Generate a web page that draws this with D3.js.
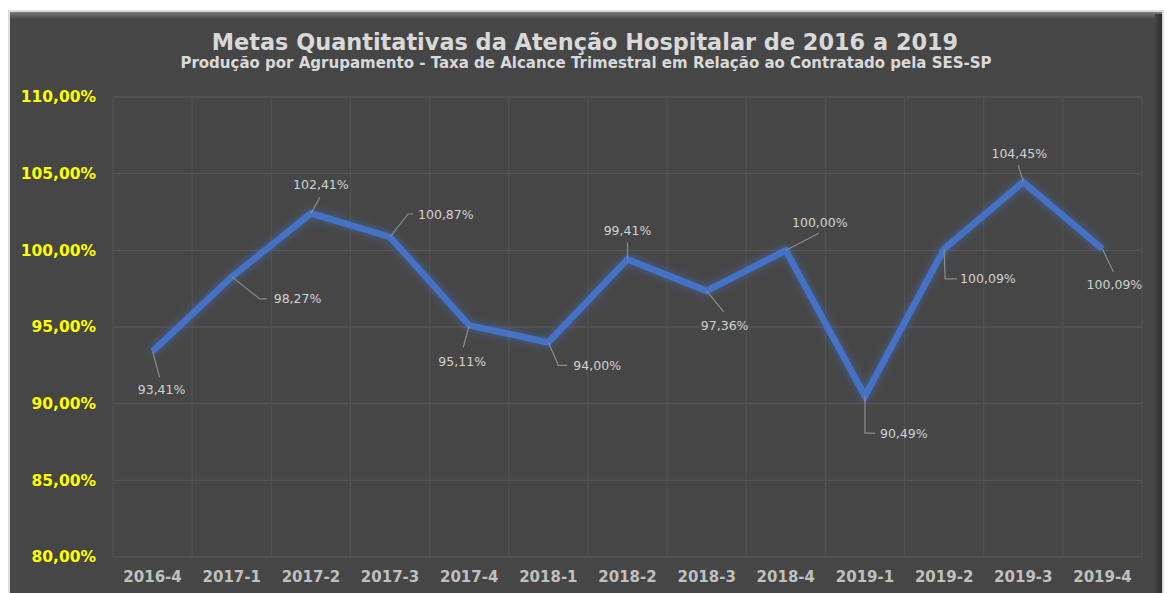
<!DOCTYPE html>
<html>
<head>
<meta charset="utf-8">
<script src="https://cdn.jsdelivr.net/npm/d3@7"></script>
<style>
  body { margin: 0; background: #ffffff; }
  svg { display: block; }
</style>
</head>
<body>
<div id="container"></div>
<script>
/* CONSTANTS AND GLOBALS */
const width = 1167;
const height = 593;
const margin = {top: 97, bottom: 36, left: 113, right: 25};

/* DATA */
const quarters = ["2016-4", "2017-1", "2017-2", "2017-3", "2017-4", "2018-1", "2018-2",
                  "2018-3", "2018-4", "2019-1", "2019-2", "2019-3", "2019-4"];
const taxa = [93.41, 98.27, 102.41, 100.87, 95.11, 94.00, 99.41, 97.36, 100.00, 90.49, 100.09, 104.45, 100.09];
const yTicks = [80, 85, 90, 95, 100, 105, 110];
const title = "Metas Quantitativas da Atenção Hospitalar de 2016 a 2019";
const subtitle = "Produção por Agrupamento - Taxa de Alcance Trimestral em Relação ao Contratado pela SES-SP";

// where each data label sits relative to its point (layout only)
const labelLayout = [
  {dx: 9,  dy: 38,  anchor: "middle", leader: [[0, 0], [7, 26]]},
  {dx: 42, dy: 22,  anchor: "start",  leader: [[0, 0], [28, 22], [35, 22]]},
  {dx: 10, dy: -29, anchor: "middle", leader: [[0, 0], [9, -16]]},
  {dx: 28, dy: -22, anchor: "start",  leader: [[0, 0], [18, -23], [23, -23]]},
  {dx: -7, dy: 36,  anchor: "middle", leader: [[0, 0], [-6, 22]]},
  {dx: 25, dy: 23,  anchor: "start",  leader: [[0, 0], [10, 23], [19, 23]]},
  {dx: 0,  dy: -29, anchor: "middle", leader: [[0, 0], [0, -17]]},
  {dx: 18, dy: 35,  anchor: "middle", leader: [[0, 0], [17, 21]]},
  {dx: 34, dy: -28, anchor: "middle", leader: [[0, 0], [33, -17]]},
  {dx: 15, dy: 37,  anchor: "start",  leader: [[0, 0], [0, 37], [10, 37]]},
  {dx: 16, dy: 30,  anchor: "start",  leader: [[0, 0], [1, 30], [13, 30]]},
  {dx: -4, dy: -29, anchor: "middle", leader: [[0, 0], [-5, -17]]},
  {dx: 12, dy: 36,  anchor: "middle", leader: [[0, 0], [11, 23]]}
];

const data = quarters.map((q, i) => ({q: q, v: taxa[i], lab: labelLayout[i]}));
const fmt = v => v.toFixed(2).replace(".", ",") + "%";

/* SVG */
const svg = d3.select("#container")
  .append("svg")
  .attr("width", width)
  .attr("height", height)
  .style("font-family", "'DejaVu Sans', Verdana, sans-serif");

const defs = svg.append("defs");

const topGrad = defs.append("linearGradient")
  .attr("id", "topBevel").attr("x1", 0).attr("y1", 0).attr("x2", 0).attr("y2", 1);
topGrad.append("stop").attr("offset", "0%").attr("stop-color", "#7a7a7a");
topGrad.append("stop").attr("offset", "100%").attr("stop-color", "#464646");

const rightGrad = defs.append("linearGradient")
  .attr("id", "rightShadow").attr("x1", 0).attr("y1", 0).attr("x2", 1).attr("y2", 0);
rightGrad.append("stop").attr("offset", "0%").attr("stop-color", "#464646");
rightGrad.append("stop").attr("offset", "100%").attr("stop-color", "#2c2c2c");

const glow = defs.append("filter")
  .attr("id", "glow")
  .attr("x", "-10%").attr("y", "-20%").attr("width", "120%").attr("height", "140%");
glow.append("feGaussianBlur").attr("in", "SourceGraphic").attr("stdDeviation", 4).attr("result", "blur");
glow.append("feComponentTransfer").attr("in", "blur").attr("result", "soft")
  .append("feFuncA").attr("type", "linear").attr("slope", 0.7);
const merge = glow.append("feMerge");
merge.append("feMergeNode").attr("in", "soft");
merge.append("feMergeNode").attr("in", "SourceGraphic");

// panel
svg.append("rect").attr("x", 8).attr("y", 10).attr("width", 1156).attr("height", 600).attr("fill", "#dcdcdc");
svg.append("rect").attr("x", 10).attr("y", 12).attr("width", 1152).attr("height", 600).attr("fill", "#464646");
svg.append("rect").attr("x", 10).attr("y", 12).attr("width", 1152).attr("height", 7).attr("fill", "url(#topBevel)");
svg.append("rect").attr("x", 1155).attr("y", 14).attr("width", 7).attr("height", 600).attr("fill", "url(#rightShadow)");

/* SCALES */
const xScale = d3.scaleBand()
  .domain(quarters)
  .range([margin.left, width - margin.right]);

const yScale = d3.scaleLinear()
  .domain([80, 110])
  .range([height - margin.bottom, margin.top]);

const cx = d => xScale(d.q) + xScale.bandwidth() / 2;

/* GRID */
svg.append("g")
  .selectAll("line")
  .data(yTicks)
  .join("line")
  .attr("x1", margin.left)
  .attr("x2", width - margin.right)
  .attr("y1", d => yScale(d))
  .attr("y2", d => yScale(d))
  .attr("stroke", "#565656")
  .attr("stroke-width", 1.3);

const xEdges = quarters.map(q => xScale(q)).concat([width - margin.right]);
svg.append("g")
  .selectAll("line")
  .data(xEdges)
  .join("line")
  .attr("x1", d => d)
  .attr("x2", d => d)
  .attr("y1", margin.top)
  .attr("y2", height - margin.bottom)
  .attr("stroke", "#525252")
  .attr("stroke-width", 1.2);

/* AXES */
const yAxis = svg.append("g")
  .attr("transform", `translate(${margin.left - 14},0)`)
  .call(d3.axisLeft(yScale).tickValues(yTicks).tickSize(0).tickFormat(d => fmt(d)));
yAxis.select(".domain").remove();
yAxis.selectAll("text")
  .attr("fill", "#ffff00")
  .attr("font-size", "15.5px")
  .attr("font-weight", "bold")
  .attr("font-family", "'DejaVu Sans', Verdana, sans-serif");

const xAxis = svg.append("g")
  .attr("transform", `translate(0,${height - margin.bottom})`)
  .call(d3.axisBottom(xScale).tickSize(0).tickPadding(14));
xAxis.select(".domain").remove();
xAxis.selectAll("text")
  .attr("fill", "#c0c0c0")
  .attr("font-size", "15px")
  .attr("font-weight", "bold")
  .attr("font-family", "'DejaVu Sans', Verdana, sans-serif");

/* LINE */
const line = d3.line()
  .x(d => cx(d))
  .y(d => yScale(d.v));

svg.append("path")
  .datum(data)
  .attr("d", line)
  .attr("fill", "none")
  .attr("stroke", "#4472c4")
  .attr("stroke-width", 6.5)
  .attr("stroke-linejoin", "miter")
  .attr("filter", "url(#glow)");

/* DATA LABELS */
const leaderLine = d3.line();
svg.append("g")
  .selectAll("path")
  .data(data)
  .join("path")
  .attr("d", d => leaderLine(d.lab.leader.map(p => [cx(d) + p[0], yScale(d.v) + p[1]])))
  .attr("fill", "none")
  .attr("stroke", "#8c8c8c")
  .attr("stroke-width", 1.2);

svg.append("g")
  .selectAll("text")
  .data(data)
  .join("text")
  .attr("x", d => cx(d) + d.lab.dx)
  .attr("y", d => yScale(d.v) + d.lab.dy)
  .attr("text-anchor", d => d.lab.anchor)
  .attr("dominant-baseline", "central")
  .attr("fill", "#d2d2d2")
  .attr("font-size", "12.5px")
  .text(d => fmt(d.v));

/* TITLES */
svg.append("text")
  .attr("x", 585)
  .attr("y", 50)
  .attr("text-anchor", "middle")
  .attr("fill", "#d9d9d9")
  .attr("font-size", "22.4px")
  .attr("font-weight", "bold")
  .text(title);

svg.append("text")
  .attr("x", 586)
  .attr("y", 68)
  .attr("text-anchor", "middle")
  .attr("fill", "#d9d9d9")
  .attr("font-size", "15px")
  .attr("font-weight", "bold")
  .text(subtitle);
</script>
</body>
</html>
